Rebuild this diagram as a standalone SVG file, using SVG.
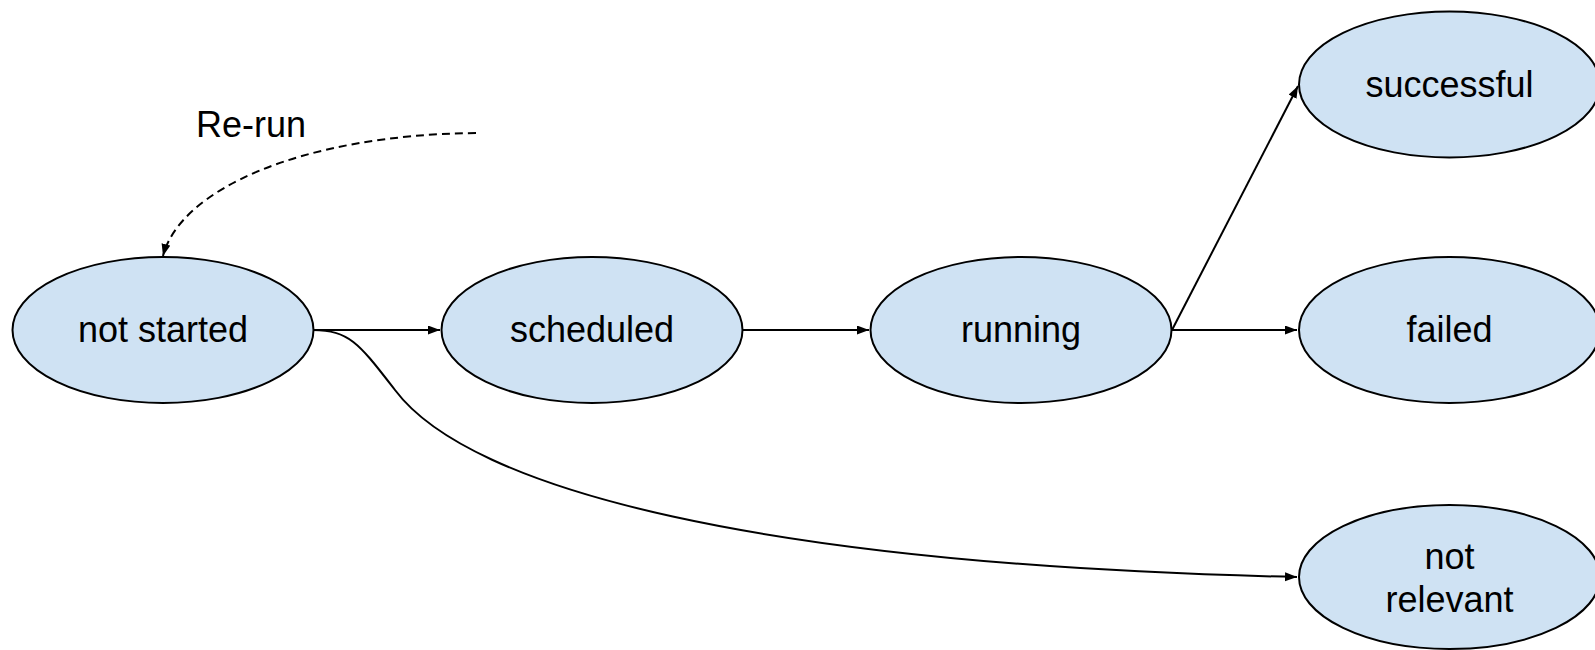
<svg xmlns="http://www.w3.org/2000/svg" width="1595" height="650" viewBox="0 0 1595 650">
<style>
.node ellipse{fill:#cfe2f3;stroke:#000;stroke-width:2}
.node text,.label{font-family:"Liberation Sans",Arial,sans-serif;font-size:36px;fill:#000;text-anchor:middle}
.edge{fill:none;stroke:#000;stroke-width:2}
.dash{stroke-dasharray:8 5}
</style>
<defs>
<marker id="ah" markerUnits="userSpaceOnUse" markerWidth="14" markerHeight="10" refX="12" refY="4.5" orient="auto">
<path d="M0,0 L12,4.5 L0,9 z" fill="#000"/>
</marker>
</defs>
<rect width="1595" height="650" fill="#fff"/>
<g id="connectors">
<path class="edge dash" d="M476,133 C300,135 180,190 163,256" marker-end="url(#ah)"/>
<path class="edge" d="M313,330 L440,330" marker-end="url(#ah)"/>
<path class="edge" d="M743,330 L869,330" marker-end="url(#ah)"/>
<path class="edge" d="M1172,330 L1297,330" marker-end="url(#ah)"/>
<path class="edge" d="M1172,330 L1298,86" marker-end="url(#ah)"/>
<path class="edge" d="M313,330 C350,330 360,345 395,390 C470,490 760,565 1297,577" marker-end="url(#ah)"/>
</g>
<text class="label" x="251" y="137">Re-run</text>
<g id="not-started" class="node"><ellipse cx="163" cy="330" rx="150.5" ry="73"/><text x="163" y="342">not started</text></g>
<g id="scheduled" class="node"><ellipse cx="592" cy="330" rx="150.5" ry="73"/><text x="592" y="342">scheduled</text></g>
<g id="running" class="node"><ellipse cx="1021" cy="330" rx="150.5" ry="73"/><text x="1021" y="342">running</text></g>
<g id="successful" class="node"><ellipse cx="1449.5" cy="84.5" rx="150.5" ry="73"/><text x="1449.5" y="97">successful</text></g>
<g id="failed" class="node"><ellipse cx="1449.5" cy="330" rx="150.5" ry="73"/><text x="1449.5" y="342">failed</text></g>
<g id="not-relevant" class="node"><ellipse cx="1449.5" cy="577" rx="150.5" ry="72"/><text x="1449.5" y="569">not</text><text x="1449.5" y="612">relevant</text></g>
</svg>
